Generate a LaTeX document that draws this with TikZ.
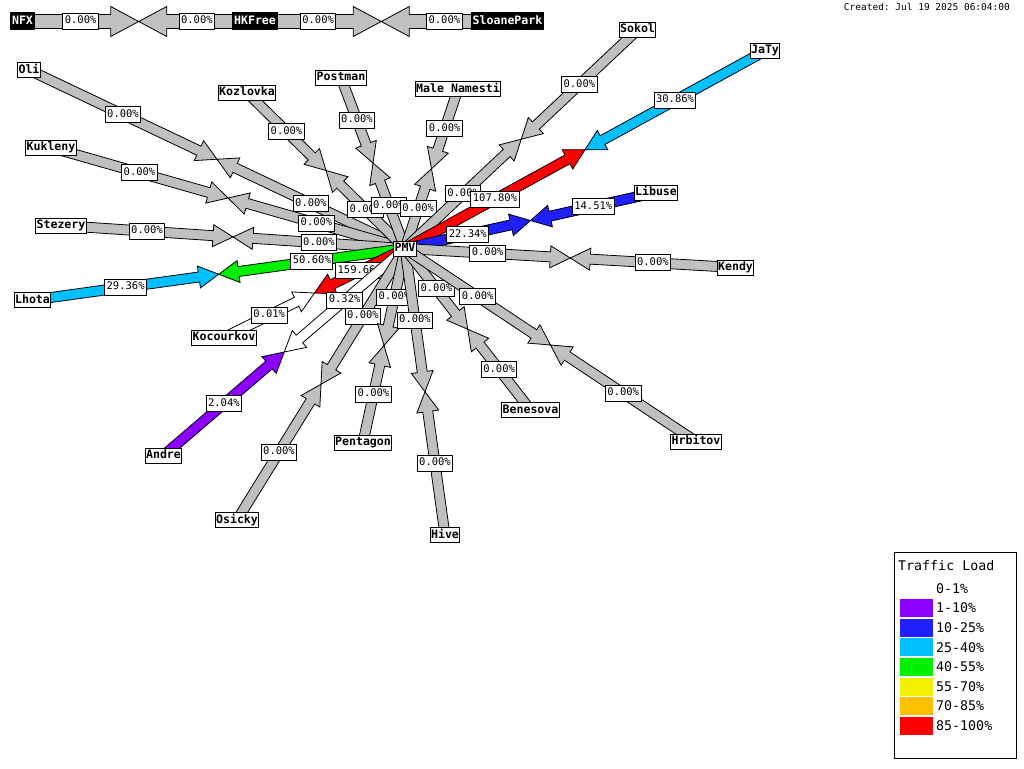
\documentclass[tikz,border=0pt]{standalone}
\usepackage{fontspec}
\setmonofont{DejaVu Sans Mono}
\usetikzlibrary{calc,backgrounds}

\definecolor{wmgrey}{RGB}{192,192,192}
\definecolor{wmpurple}{RGB}{140,0,255}
\definecolor{wmblue}{RGB}{32,32,255}
\definecolor{wmcyan}{RGB}{0,192,255}
\definecolor{wmgreen}{RGB}{0,240,0}
\definecolor{wmyellow}{RGB}{240,240,0}
\definecolor{wmorange}{RGB}{255,192,0}
\definecolor{wmred}{RGB}{255,0,0}

\newcommand{\shaftw}{5pt}
\newcommand{\headw}{11pt}
\newcommand{\headl}{20pt}

% one half of a link: from node #1 up to the midpoint (mid)
\newcommand{\halfarrow}[2]{%
  \coordinate (hb) at ($(mid)!\headl!(#1.center)$);
  \filldraw[fill=#2,draw=black,line width=0.8pt,line join=miter]
    ($(#1.center)!\shaftw!90:(mid)$) -- ($(hb)!\shaftw!90:(mid)$)
    -- ($(hb)!\headw!90:(mid)$) -- (mid) -- ($(hb)!\headw!-90:(mid)$)
    -- ($(hb)!\shaftw!-90:(mid)$) -- ($(#1.center)!\shaftw!-90:(mid)$) -- cycle;
}
\newcommand{\wmlink}[6]{%
  \coordinate (mid) at ($(#1.center)!0.5!(#2.center)$);
  \halfarrow{#1}{#3}
  \halfarrow{#2}{#4}
  \node[bwlabel] at ($(#1.center)!0.25!(#2.center)$) {#5};
  \node[bwlabel] at ($(#1.center)!0.75!(#2.center)$) {#6};
}

\begin{document}
\begin{tikzpicture}[x=1pt,y=-1pt]

    \tikzset{wmnode/.style={draw,fill=white,line width=1pt,inner xsep=1pt,inner ysep=2pt,
        text height=8.5pt,text depth=2.5pt,font=\ttfamily\bfseries\fontsize{11.6}{12}\selectfont}}
    \tikzset{wmdark/.style={fill=black,text=white,inner xsep=2pt,inner ysep=3.5pt,
        text height=8.5pt,text depth=2.5pt,font=\ttfamily\bfseries\fontsize{11.6}{12}\selectfont}}
    \tikzset{bwlabel/.style={draw,fill=white,line width=1pt,inner xsep=2pt,inner ysep=3pt,
        text height=7.5pt,text depth=2.5pt,font=\ttfamily\fontsize{10.5}{11}\selectfont}}
    \tikzset{legendtext/.style={anchor=west,inner sep=0pt,font=\ttfamily\fontsize{13.3}{14}\selectfont}}

    \useasboundingbox (0,0) rectangle (1024,768);

    \node[wmnode] (pmv) at (405,248.5) {PMV};
    \node[wmnode] (oli) at (29,70) {Oli};
    \node[wmnode] (kozlovka) at (247,92.5) {Kozlovka};
    \node[wmnode] (postman) at (341,77.5) {Postman};
    \node[wmnode] (malenamesti) at (458,89) {Male Namesti};
    \node[wmnode] (sokol) at (637.5,30) {Sokol};
    \node[wmnode] (jaty) at (765,51) {JaTy};
    \node[wmnode] (kukleny) at (51,147.5) {Kukleny};
    \node[wmnode] (stezery) at (61,225.5) {Stezery};
    \node[wmnode] (libuse) at (656,192.5) {Libuse};
    \node[wmnode] (kendy) at (735.5,267.5) {Kendy};
    \node[wmnode] (lhota) at (32.5,300) {Lhota};
    \node[wmnode] (kocourkov) at (224,337.5) {Kocourkov};
    \node[wmnode] (andre) at (163.5,455.5) {Andre};
    \node[wmnode] (osicky) at (237,520) {Osicky};
    \node[wmnode] (pentagon) at (363,442.5) {Pentagon};
    \node[wmnode] (hive) at (445,535) {Hive};
    \node[wmnode] (benesova) at (530.5,410) {Benesova};
    \node[wmnode] (hrbitov) at (696,441.5) {Hrbitov};

    \node[wmdark] (nfx) at (22.5,21.5) {NFX};
    \node[wmdark] (hkfree) at (255,21.5) {HKFree};
    \node[wmdark] (sloanepark) at (507.5,21.5) {SloanePark};

    \begin{pgfonlayer}{background}
        \fill[white] (0,0) rectangle (1024,768);

        % links around PMV
        \wmlink{pmv}{oli}{wmgrey}{wmgrey}{0.00\%}{0.00\%}
        \wmlink{pmv}{kukleny}{wmgrey}{wmgrey}{0.00\%}{0.00\%}
        \wmlink{pmv}{stezery}{wmgrey}{wmgrey}{0.00\%}{0.00\%}
        \wmlink{pmv}{kozlovka}{wmgrey}{wmgrey}{0.00\%}{0.00\%}
        \wmlink{pmv}{postman}{wmgrey}{wmgrey}{0.00\%}{0.00\%}
        \wmlink{pmv}{malenamesti}{wmgrey}{wmgrey}{0.00\%}{0.00\%}
        \wmlink{pmv}{sokol}{wmgrey}{wmgrey}{0.00\%}{0.00\%}
        \wmlink{pmv}{jaty}{wmred}{wmcyan}{107.80\%}{30.86\%}
        \wmlink{pmv}{libuse}{wmblue}{wmblue}{22.34\%}{14.51\%}
        \wmlink{pmv}{kendy}{wmgrey}{wmgrey}{0.00\%}{0.00\%}
        \wmlink{pmv}{lhota}{wmgreen}{wmcyan}{50.60\%}{29.36\%}
        \wmlink{pmv}{kocourkov}{wmred}{white}{159.66\%}{0.01\%}
        \wmlink{pmv}{andre}{white}{wmpurple}{0.32\%}{2.04\%}
        \wmlink{pmv}{osicky}{wmgrey}{wmgrey}{0.00\%}{0.00\%}
        \wmlink{pmv}{pentagon}{wmgrey}{wmgrey}{0.00\%}{0.00\%}
        \wmlink{pmv}{hive}{wmgrey}{wmgrey}{0.00\%}{0.00\%}
        \wmlink{pmv}{benesova}{wmgrey}{wmgrey}{0.00\%}{0.00\%}
        \wmlink{pmv}{hrbitov}{wmgrey}{wmgrey}{0.00\%}{0.00\%}

        % uplinks along the top
        \renewcommand{\shaftw}{7pt}
        \renewcommand{\headw}{15pt}
        \renewcommand{\headl}{28pt}
        \wmlink{nfx}{hkfree}{wmgrey}{wmgrey}{0.00\%}{0.00\%}
        \wmlink{hkfree}{sloanepark}{wmgrey}{wmgrey}{0.00\%}{0.00\%}
    \end{pgfonlayer}

    \node[anchor=east,inner sep=0pt,font=\ttfamily\fontsize{9.5}{10}\selectfont] (created) at (1010,7) {Created: Jul 19 2025 06:04:00};

    % legend
    \draw[line width=1pt] (894.5,552.5) rectangle (1016.5,758.5);
    \node[legendtext] (legendtitle) at (898,565.5) {Traffic Load};
    \foreach \col/\txt [count=\i from 0] in {white/0-1\%,wmpurple/1-10\%,wmblue/10-25\%,wmcyan/25-40\%,
        wmgreen/40-55\%,wmyellow/55-70\%,wmorange/70-85\%,wmred/85-100\%}
    {
        \fill[\col] (900,579.5+19.6*\i) rectangle +(33,18);
        \node[legendtext] (key\i) at (936,588.5+19.6*\i) {\txt};
    }

\end{tikzpicture}
\end{document}
